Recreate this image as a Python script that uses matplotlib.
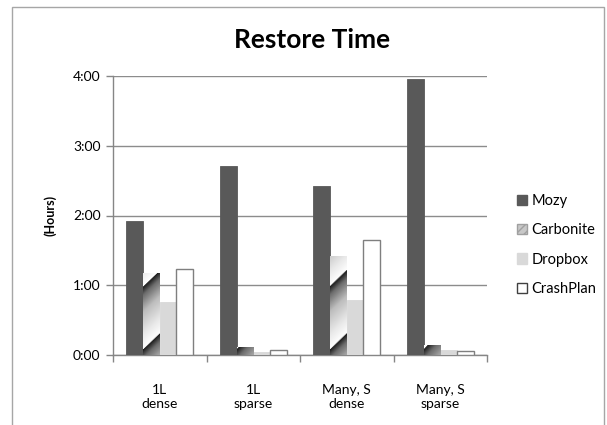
import numpy as np
import matplotlib
matplotlib.use("Agg")
import matplotlib.pyplot as plt
from matplotlib.patches import Rectangle, Patch
from matplotlib.colors import LinearSegmentedColormap

plt.rcParams['font.family'] = ['Lato', 'DejaVu Sans']
plt.rcParams['hatch.color'] = '#606060'

categories = ["1L\ndense", "1L\nsparse", "Many, S\ndense", "Many, S\nsparse"]
series_names = ["Mozy", "Carbonite", "Dropbox", "CrashPlan"]
mozy = [1.92, 2.71, 2.42, 3.96]
carbonite = [1.18, 0.12, 1.42, 0.14]
dropbox = [0.76, 0.05, 0.79, 0.07]
crashplan = [1.24, 0.07, 1.65, 0.06]
yticks = [0, 1, 2, 3, 4]
ytick_labels = ["0:00", "1:00", "2:00", "3:00", "4:00"]

W, H = 607, 425
fig = plt.figure(figsize=(W / 100, H / 100), dpi=100)
ax = fig.add_axes([113 / W, 1 - 355 / H, (487 - 113) / W, (355 - 76) / H])

# outer chart border
fig.patches.append(Rectangle((12 / W, -0.05), (604 - 12) / W, 1.05 - 7 / H,
                             transform=fig.transFigure, fill=False,
                             edgecolor='#a6a6a6', linewidth=1.0))

x = np.arange(len(categories))
bw = 0.178
offsets = np.array([-1.5, -0.5, 0.5, 1.5]) * bw

ax.bar(x + offsets[0], mozy, bw, color='#595959', edgecolor='#595959', linewidth=0.6, zorder=3)
cbars = ax.bar(x + offsets[1], carbonite, bw, facecolor='none', edgecolor='none', zorder=3)
ax.bar(x + offsets[2], dropbox, bw, color='#d9d9d9', edgecolor='#d9d9d9', linewidth=0.6, zorder=3)
ax.bar(x + offsets[3], crashplan, bw, color='white', edgecolor='#7f7f7f', linewidth=1.0, zorder=3)

# gradient striped fill for Carbonite
cmap = LinearSegmentedColormap.from_list('carb', [(0, '#1c1c1c'), (0.12, '#6a6a6a'),
                                                 (0.4, '#bdbdbd'), (0.75, '#e8e8e8'),
                                                 (1.0, '#ffffff')])
px_per_x = 93.5
px_per_y = 69.7
P = 62.0
for b in cbars:
    x0, w, h = b.get_x(), b.get_width(), b.get_height()
    nx = max(int(w * px_per_x), 2)
    ny = max(int(h * px_per_y), 2)
    xx, yy = np.meshgrid(np.arange(nx), np.arange(ny))
    yup = ny - yy
    v = np.mod((xx - yup) + 200 - 8, P) / P
    im = ax.imshow(v, cmap=cmap, extent=[x0, x0 + w, 0, h], aspect='auto',
                   interpolation='bilinear', zorder=3, vmin=0, vmax=1)
    im.set_clip_path(b)

ax.set_xlim(-0.5, len(categories) - 0.5)
ax.set_ylim(0, 4)
ax.set_yticks(yticks)
ax.set_yticklabels(ytick_labels, fontsize=10)
ax.set_xticks(x)
ax.set_xticklabels(categories, fontsize=10, linespacing=1.2)
ax.tick_params(axis='x', length=0, pad=21)
ax.set_xticks(np.arange(-0.5, len(categories), 1.0), minor=True)
ax.tick_params(axis='x', which='minor', length=5, color='#868686', width=1)
ax.tick_params(axis='y', length=5, color='#868686', width=1, pad=4)

ax.grid(axis='y', color='#8c8c8c', linewidth=1.0, zorder=0)
ax.set_axisbelow(True)
for s in ['top', 'right']:
    ax.spines[s].set_visible(False)
for s in ['left', 'bottom']:
    ax.spines[s].set_color('#868686')
    ax.spines[s].set_linewidth(1.0)

ax.set_ylabel("(Hours)", fontsize=9, fontweight='bold', labelpad=12)
fig.text(312 / W, 1 - 40 / H, "Restore Time", ha='center', va='center',
         fontsize=19, fontweight='bold')

handles = [Patch(facecolor='#595959', edgecolor='#595959'),
           Patch(facecolor='#c8c8c8', edgecolor='#a0a0a0', hatch='////'),
           Patch(facecolor='#d9d9d9', edgecolor='#d9d9d9'),
           Patch(facecolor='white', edgecolor='#404040')]
leg = fig.legend(handles, series_names, loc='center left', bbox_to_anchor=(504 / W, 1 - 245 / H),
                 frameon=False, fontsize=10.5, handlelength=0.7, handleheight=0.7,
                 handletextpad=0.3, labelspacing=1.05)

fig.savefig("out.png", dpi=100)
